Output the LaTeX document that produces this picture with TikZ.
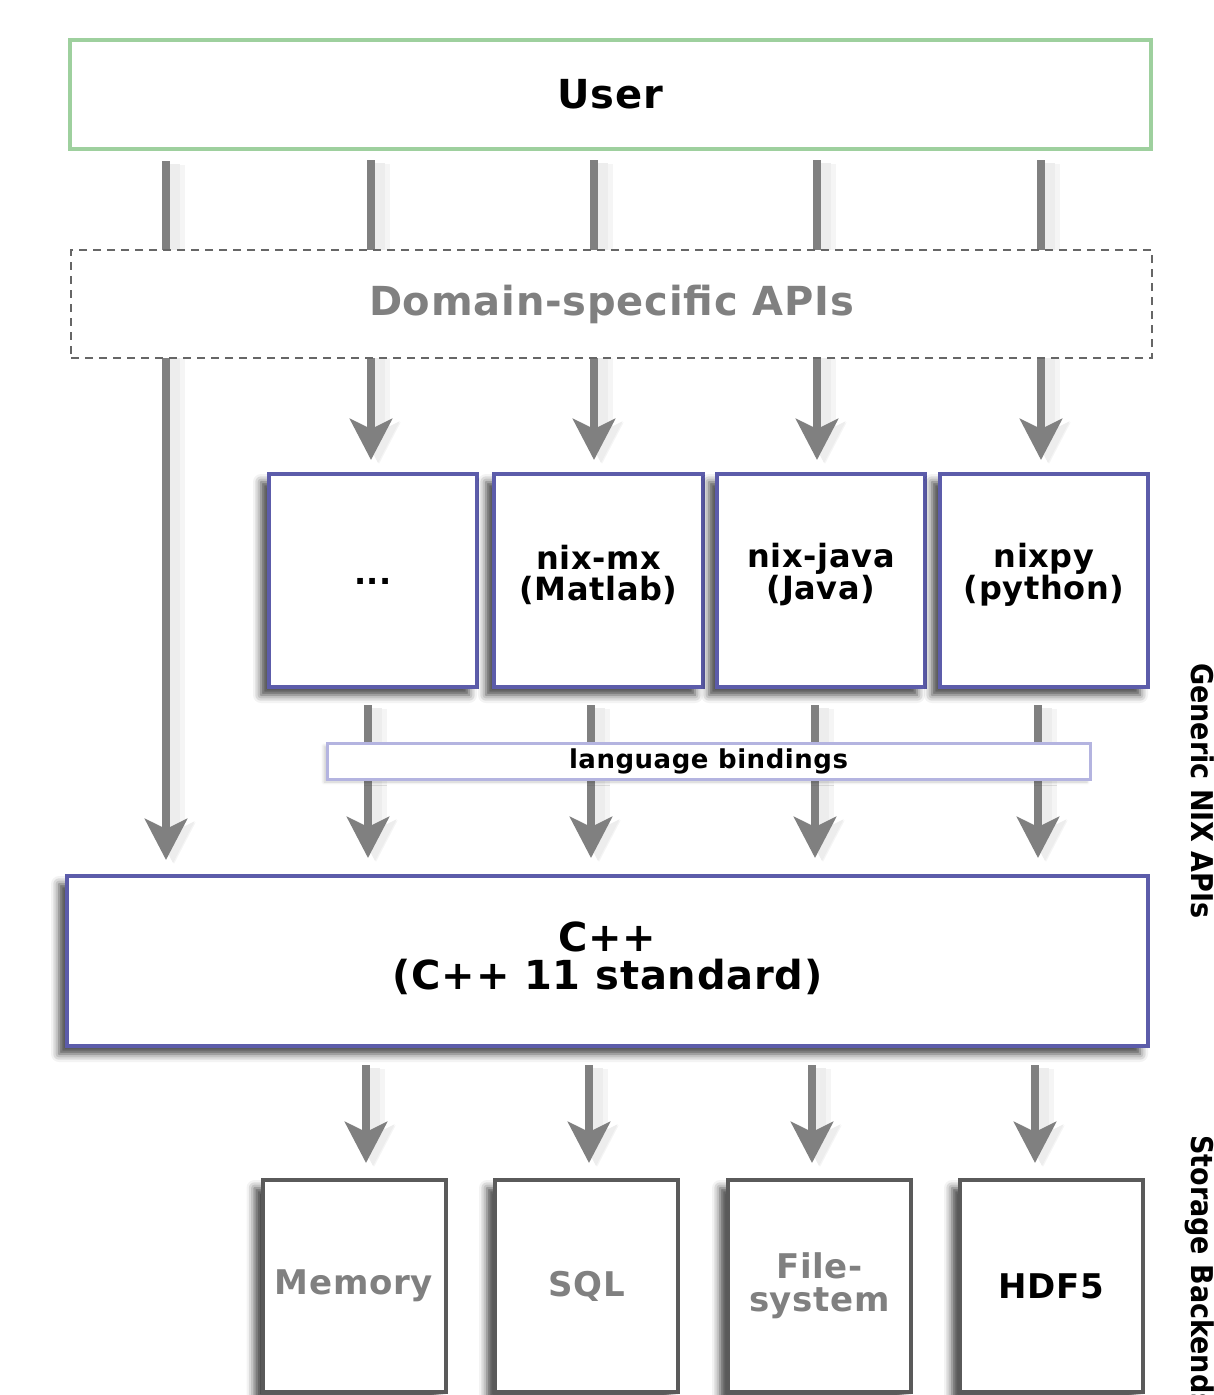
\documentclass[tikz,border=0pt]{standalone}
\usepackage{fontspec}
\setmainfont{DejaVu Sans}[LetterSpace=2]
\newfontfamily\condfont{DejaVu Sans Condensed}
\usetikzlibrary{arrows.meta,shadows.blur}
\definecolor{arrgray}{HTML}{808080}
\definecolor{txtgray}{HTML}{808080}
\definecolor{usergreen}{HTML}{9ED09E}
\definecolor{langblue}{HTML}{5C5CAA}
\definecolor{lbblue}{HTML}{B4B4E0}
\definecolor{storegray}{HTML}{5A5A5A}
\pgfdeclarelayer{bg}
\pgfsetlayers{bg,main}
\tikzset{
  arr/.style={draw=arrgray, line width=8pt, -{Stealth[length=41pt,width=42pt,inset=10pt]},
    preaction={draw=black!4, line width=22pt, transform canvas={xshift=8pt,yshift=-4pt}},
    preaction={draw=black!7, line width=14pt, transform canvas={xshift=7pt,yshift=-3pt}}},
  boxshadow/.style={blur shadow={shadow xshift=-8pt, shadow yshift=-8pt, shadow blur radius=8pt, shadow opacity=75}},
  userbox/.style={draw=usergreen, line width=4pt, fill=white, minimum width=1081pt, minimum height=109pt, inner sep=0pt,
    font=\fontsize{40}{44}\selectfont\bfseries},
  dsabox/.style={draw=black!60, line width=2pt, dash pattern=on 8pt off 6pt, fill=white, minimum width=1081pt, minimum height=108pt,
    inner sep=0pt, text=txtgray, font=\fontsize{40}{44}\selectfont\bfseries},
  langbox/.style={draw=langblue, line width=4pt, fill=white, minimum width=208pt, minimum height=213pt, inner sep=0pt,
    boxshadow},
  langtext/.style={inner sep=0pt, align=center, font=\fontsize{32}{31}\selectfont\bfseries},
  lbbox/.style={draw=lbblue, line width=3pt, fill=white, minimum width=763pt, minimum height=36pt, inner sep=0pt,
    blur shadow={shadow xshift=-3pt, shadow yshift=-3pt, shadow blur radius=3pt, shadow opacity=20},
    font=\fontsize{26}{28}\selectfont\bfseries},
  cppbox/.style={draw=langblue, line width=4pt, fill=white, minimum width=1081pt, minimum height=170pt, inner sep=0pt,
    boxshadow},
  cpptext/.style={inner sep=0pt, align=center, font=\fontsize{40}{38}\selectfont\bfseries},
  storebox/.style={draw=storegray, line width=4pt, fill=white, minimum width=183pt, minimum height=212pt, inner sep=0pt,
    align=center, boxshadow, font=\fontsize{34}{33}\selectfont\bfseries},
  sidelabel/.style={rotate=-90, anchor=base west, inner sep=0pt, font=\fontsize{30}{32}\condfont\bfseries}
}
\begin{document}
\begin{tikzpicture}[x=1pt,y=-1pt]
\useasboundingbox (0,0) rectangle (1213,1395);
\clip (0,0) rectangle (1213,1395);

% boxes
\node[userbox] (user) at (610.5,94.5) {User};
\node[dsabox] (dsa) at (611.5,304) {Domain-specific APIs};

\node[langbox] (L1) at (373,580.5) {};
\node[langbox, minimum width=209pt] (L2) at (598.5,580.5) {};
\node[langbox] (L3) at (821,580.5) {};
\node[langbox] (L4) at (1044,580.5) {};
\node[langtext] (L1t) at ([yshift=-1pt]L1.center) {...};
\node[langtext] (L2t) at ([yshift=6pt]L2.center) {nix-mx\\(Matlab)};
\node[langtext] (L3t) at ([yshift=6pt]L3.center) {nix-java\\(Java)};
\node[langtext] (L4t) at ([yshift=6pt]L4.center) {nixpy\\(python)};

\node[lbbox] (lb) at (708.5,761) {language bindings};

\node[cppbox] (cpp) at (607.5,961) {};
\node[cpptext] (cppt) at ([yshift=3pt]cpp.center) {C++\\(C++ 11 standard)};

\node[storebox, text=txtgray] (S1) at (354,1286) {Memory};
\node[storebox, text=txtgray] (S2) at (586.5,1286) {SQL};
\node[storebox, text=txtgray] (S3) at (819.5,1286) {File-\\system};
\node[storebox] (S4) at (1051.5,1286) {HDF5};

\node[sidelabel] (gen) at (1191,663) {Generic NIX APIs};
\node[sidelabel] (sto) at (1191,1135) {Storage Backends};

% arrow columns
\coordinate (a0) at (166,0);
\coordinate (a1) at (371,0);
\coordinate (a2) at (594,0);
\coordinate (a3) at (817,0);
\coordinate (a4) at (1041,0);
\coordinate (m1) at (368,0);
\coordinate (m2) at (591,0);
\coordinate (m3) at (815,0);
\coordinate (m4) at (1038,0);
\coordinate (s1) at (366,0);
\coordinate (s2) at (589,0);
\coordinate (s3) at (812,0);
\coordinate (s4) at (1035,0);

\begin{pgfonlayer}{bg}
\draw[arr, shorten <=10pt, shorten >=14pt] (user.south -| a0) -- (cpp.north -| a0);
\draw[arr, shorten <=9pt, shorten >=12pt] (user.south -| a1) -- (L1.north -| a1);
\draw[arr, shorten <=9pt, shorten >=12pt] (user.south -| a2) -- (L2.north -| a2);
\draw[arr, shorten <=9pt, shorten >=12pt] (user.south -| a3) -- (L3.north -| a3);
\draw[arr, shorten <=9pt, shorten >=12pt] (user.south -| a4) -- (L4.north -| a4);
\draw[arr, shorten <=16pt, shorten >=16pt] (L1.south -| m1) -- (cpp.north -| m1);
\draw[arr, shorten <=16pt, shorten >=16pt] (L2.south -| m2) -- (cpp.north -| m2);
\draw[arr, shorten <=16pt, shorten >=16pt] (L3.south -| m3) -- (cpp.north -| m3);
\draw[arr, shorten <=16pt, shorten >=16pt] (L4.south -| m4) -- (cpp.north -| m4);
\draw[arr, shorten <=17pt, shorten >=15pt] (cpp.south -| s1) -- (S1.north -| s1);
\draw[arr, shorten <=17pt, shorten >=15pt] (cpp.south -| s2) -- (S2.north -| s2);
\draw[arr, shorten <=17pt, shorten >=15pt] (cpp.south -| s3) -- (S3.north -| s3);
\draw[arr, shorten <=17pt, shorten >=15pt] (cpp.south -| s4) -- (S4.north -| s4);
\end{pgfonlayer}
\end{tikzpicture}
\end{document}
